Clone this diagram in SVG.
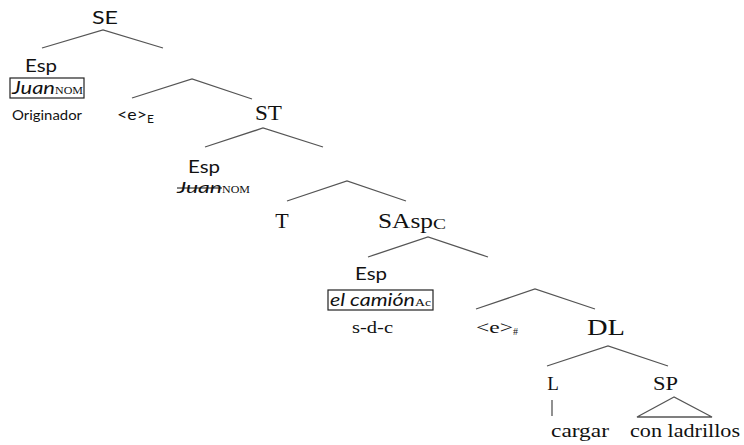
<svg xmlns="http://www.w3.org/2000/svg" width="744" height="445" viewBox="0 0 744 445">
<style>
.s{font-family:"Lato","Open Sans","Liberation Sans",sans-serif;fill:#111}
.r{font-family:"Liberation Serif","Times New Roman",serif;fill:#111}
.e{stroke:#555;stroke-width:1.3;fill:none}
.b{stroke:#222;stroke-width:1.2;fill:none}
</style>
<rect width="744" height="445" fill="#fff"/>
<g id="connectors">
<polyline class="e" points="42,48 103,30 163,48"/>
<polyline class="e" points="132,98 192,79 252,99"/>
<polyline class="e" points="205,147 263,128 323,147"/>
<polyline class="e" points="287,201 347,181 406,201"/>
<polyline class="e" points="368,257 428,237 488,257"/>
<polyline class="e" points="476,309 535,289 595,309"/>
<polyline class="e" points="547,366 608,346 668,366"/>
<line class="e" x1="552" y1="400" x2="552" y2="416"/>
<polygon class="e" points="674,397 637,417 712,417"/>
</g>
<g id="SE"><text class="s" x="92" y="24" font-size="18" textLength="26" lengthAdjust="spacingAndGlyphs">SE</text></g>
<g id="Esp1">
<text class="s" x="25" y="72" font-size="17" textLength="32" lengthAdjust="spacingAndGlyphs">Esp</text>
<rect class="b" x="10" y="78" width="74" height="20"/>
<text class="s" x="12" y="94" font-size="17" font-style="italic"><tspan textLength="43" lengthAdjust="spacingAndGlyphs">Juan</tspan><tspan class="r" font-size="11" font-style="normal" textLength="28" lengthAdjust="spacingAndGlyphs">NOM</tspan></text>
<text class="s" x="12" y="120" font-size="13" textLength="70" lengthAdjust="spacingAndGlyphs">Originador</text>
</g>
<g id="eE"><text class="s" x="117" y="120" font-size="16"><tspan textLength="30" lengthAdjust="spacingAndGlyphs">&lt;e&gt;</tspan><tspan font-size="12" dy="3">E</tspan></text></g>
<g id="ST"><text class="r" x="255" y="120" font-size="21" textLength="27" lengthAdjust="spacingAndGlyphs">ST</text></g>
<g id="Esp2">
<text class="s" x="188" y="173" font-size="17" textLength="32" lengthAdjust="spacingAndGlyphs">Esp</text>
<text class="s" x="177" y="193" font-size="16" font-style="italic"><tspan textLength="45" lengthAdjust="spacingAndGlyphs">Juan</tspan><tspan class="r" font-size="11" font-style="normal" textLength="28" lengthAdjust="spacingAndGlyphs">NOM</tspan></text>
<line x1="177" y1="188" x2="222" y2="188" stroke="#111" stroke-width="1"/>
</g>
<g id="T"><text class="r" x="282" y="228" font-size="22" text-anchor="middle">T</text></g>
<g id="SAsp"><text class="r" x="378" y="228" font-size="22"><tspan textLength="55" lengthAdjust="spacingAndGlyphs">SAsp</tspan><tspan font-size="15" dy="1" textLength="13" lengthAdjust="spacingAndGlyphs">C</tspan></text></g>
<g id="Esp3">
<text class="s" x="355" y="280" font-size="17" textLength="32" lengthAdjust="spacingAndGlyphs">Esp</text>
<rect class="b" x="328" y="290" width="105" height="20"/>
<text class="s" x="330" y="306" font-size="17" font-style="italic"><tspan textLength="85" lengthAdjust="spacingAndGlyphs">el camión</tspan><tspan class="r" font-size="11" font-style="normal" textLength="16" lengthAdjust="spacingAndGlyphs">Ac</tspan></text>
<text class="r" x="352" y="333" font-size="16" textLength="41" lengthAdjust="spacingAndGlyphs">s-d-c</text>
</g>
<g id="eH"><text class="r" x="476" y="333" font-size="17"><tspan textLength="37" lengthAdjust="spacingAndGlyphs">&lt;e&gt;</tspan><tspan font-size="10" dy="2">#</tspan></text></g>
<g id="DL"><text class="r" x="587" y="335" font-size="23" textLength="38" lengthAdjust="spacingAndGlyphs">DL</text></g>
<g id="L"><text class="r" x="553" y="390" font-size="19" text-anchor="middle">L</text></g>
<g id="SP"><text class="r" x="653" y="390" font-size="19" textLength="25" lengthAdjust="spacingAndGlyphs">SP</text></g>
<g id="cargar"><text class="r" x="551" y="437" font-size="19" textLength="58" lengthAdjust="spacingAndGlyphs">cargar</text></g>
<g id="conladrillos"><text class="r" x="630" y="437" font-size="19" textLength="110" lengthAdjust="spacingAndGlyphs">con ladrillos</text></g>
</svg>
